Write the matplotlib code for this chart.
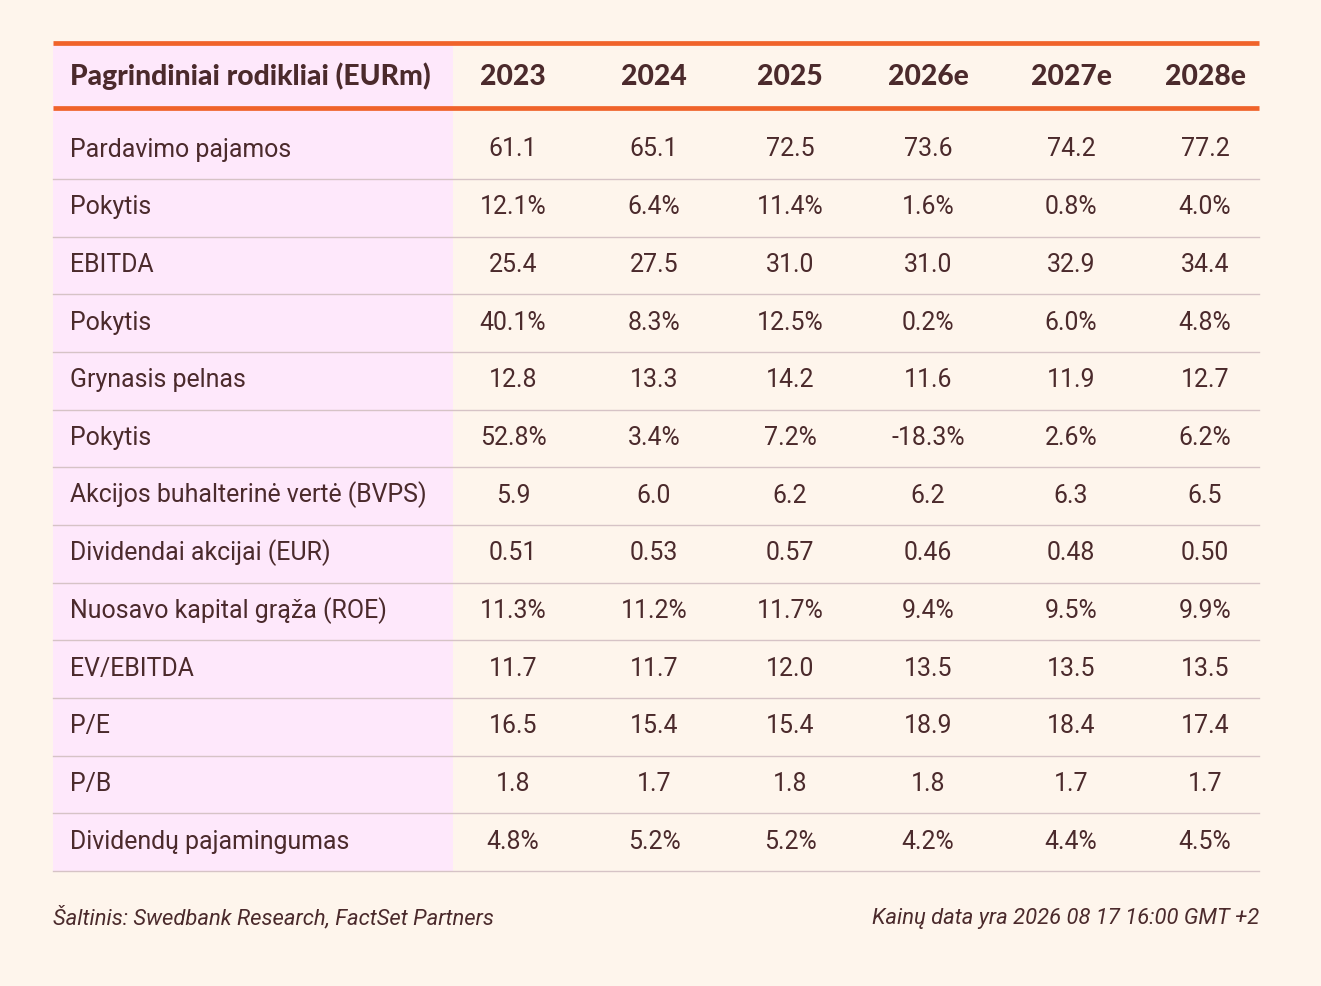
import matplotlib
matplotlib.use("Agg")
import matplotlib.pyplot as plt

header_label = "Pagrindiniai rodikliai (EURm)"
years = ["2023", "2024", "2025", "2026e", "2027e", "2028e"]
row_labels = [
    "Pardavimo pajamos", "Pokytis", "EBITDA", "Pokytis", "Grynasis pelnas", "Pokytis",
    "Akcijos buhalterinė vertė (BVPS)", "Dividendai akcijai (EUR)",
    "Nuosavo kapital grąža (ROE)", "EV/EBITDA", "P/E", "P/B", "Dividendų pajamingumas",
]
values = [
    ["61.1", "65.1", "72.5", "73.6", "74.2", "77.2"],
    ["12.1%", "6.4%", "11.4%", "1.6%", "0.8%", "4.0%"],
    ["25.4", "27.5", "31.0", "31.0", "32.9", "34.4"],
    ["40.1%", "8.3%", "12.5%", "0.2%", "6.0%", "4.8%"],
    ["12.8", "13.3", "14.2", "11.6", "11.9", "12.7"],
    ["52.8%", "3.4%", "7.2%", "-18.3%", "2.6%", "6.2%"],
    ["5.9", "6.0", "6.2", "6.2", "6.3", "6.5"],
    ["0.51", "0.53", "0.57", "0.46", "0.48", "0.50"],
    ["11.3%", "11.2%", "11.7%", "9.4%", "9.5%", "9.9%"],
    ["11.7", "11.7", "12.0", "13.5", "13.5", "13.5"],
    ["16.5", "15.4", "15.4", "18.9", "18.4", "17.4"],
    ["1.8", "1.7", "1.8", "1.8", "1.7", "1.7"],
    ["4.8%", "5.2%", "5.2%", "4.2%", "4.4%", "4.5%"],
]
source_text = "Šaltinis: Swedbank Research, FactSet Partners"
date_text = "Kainų data yra 2026 08 17 16:00 GMT +2"

BG = "#FEF5EC"
PINK = "#FEE8FB"
ORANGE = "#F0632A"
TXT = "#4B2A2C"
GRID = "#D6C3C6"

W, H = 1321, 987
fig = plt.figure(figsize=(W / 100, H / 100), dpi=100, facecolor=BG)
ax = fig.add_axes([0, 0, 1, 1])
ax.set_xlim(0, W)
ax.set_ylim(H, 0)
ax.axis("off")
ax.set_facecolor(BG)

left, right = 53, 1259
label_right = 453
top_line = 44
head_line = 109
first_div = 180
row_h = 57.67
col_x = [513, 654, 790, 928, 1071, 1205]
n = len(row_labels)
bottom = first_div + (n - 1) * row_h

# pink label column
ax.add_patch(plt.Rectangle((left, top_line), label_right - left, bottom - top_line,
                           facecolor=PINK, edgecolor="none", zorder=1))

# header
hb = 85
ax.text(70, hb, header_label, fontsize=20.3, fontweight="black",
        family="Lato", color=TXT, ha="left", va="baseline", zorder=3)
for x, y in zip(col_x, years):
    ax.text(x, hb, y, fontsize=20.3, fontweight="black",
            family="Lato", color=TXT, ha="center", va="baseline", zorder=3)

# rows
for i, (lab, vals) in enumerate(zip(row_labels, values)):
    yb = first_div + i * row_h
    base = yb - 23.5
    ax.text(70, base, lab, fontsize=17.9, family="Roboto", color=TXT,
            ha="left", va="baseline", zorder=3)
    for x, v in zip(col_x, vals):
        ax.text(x, base, v, fontsize=17.9, family="Roboto", color=TXT,
                ha="center", va="baseline", zorder=3)
    ax.plot([left, right], [yb, yb], color=GRID, lw=1.0, zorder=2)

# orange lines
ax.plot([left, right], [top_line, top_line], color=ORANGE, lw=3.4, zorder=4, solid_capstyle="butt")
ax.plot([left, right], [head_line, head_line], color=ORANGE, lw=3.4, zorder=4, solid_capstyle="butt")

# footer
ax.text(left, 924, source_text, fontsize=15.85, family="Roboto", style="italic",
        color=TXT, ha="left", va="baseline")
ax.text(right, 924, date_text, fontsize=15.85, family="Roboto", style="italic",
        color=TXT, ha="right", va="baseline")

fig.savefig("out.png", dpi=100, facecolor=BG)
